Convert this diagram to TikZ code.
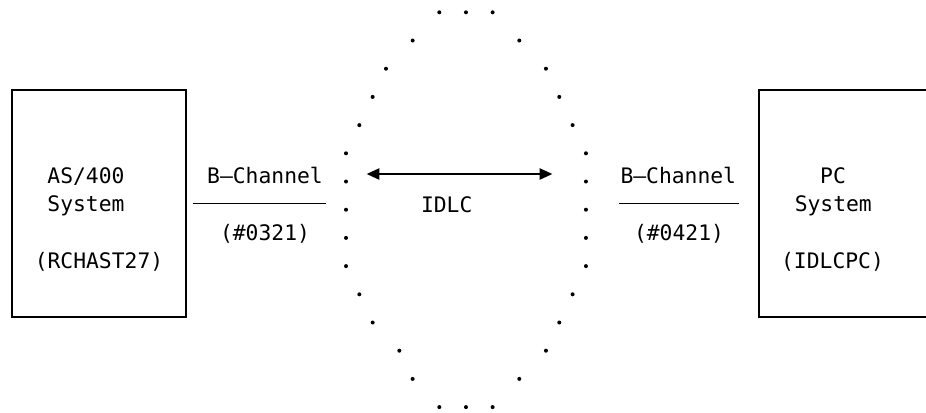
\documentclass[tikz,border=0pt]{standalone}
\usepackage{fontspec}
\newfontfamily\termfont{DejaVu Sans Mono}
\usetikzlibrary{arrows.meta}
\tikzset{
  sysbox/.style={draw, line width=1pt, minimum width=130.5pt, minimum height=170.25pt, inner sep=0pt},
  lbl/.style={anchor=base, inner sep=0pt, font=\termfont\fontsize{16}{16}\selectfont},
  link/.style={line width=0.9pt},
}
\begin{document}
\begin{tikzpicture}[x=0.75pt, y=-0.75pt]
  \useasboundingbox (0,0) rectangle (926,412);
  % systems
  \node [sysbox] (as400) at (99,203.5) {};
  \node [sysbox] (pc) at (846,203.5) {};
  \node [lbl] (as400name) at (86,183.5) {AS/400};
  \node [lbl] (as400sys) at (86,211.7) {System};
  \node [lbl] (as400id) at (99,268.3) {(RCHAST27)};
  \node [lbl] (pcname) at (833,183.5) {PC};
  \node [lbl] (pcsys) at (833.3,211.7) {System};
  \node [lbl] (pcid) at (832.5,268.3) {(IDLCPC)};
  % B-channels
  \node [lbl] (lchan) at (265,183.5) {B—Channel};
  \node [lbl] (lnum) at (265,240) {(\#0321)};
  \node [lbl] (rchan) at (678.3,183.5) {B—Channel};
  \node [lbl] (rnum) at (679,240) {(\#0421)};
  \coordinate (lchl) at (192.7,203.7);
  \coordinate (lchr) at (326,203.7);
  \coordinate (rchl) at (619.3,203.7);
  \coordinate (rchr) at (739.3,203.7);
  \draw [link] (lchl) -- (lchr);
  \draw [link] (rchl) -- (rchr);
  % network cloud
  \foreach \k/\r in {7/0,9/0,11/0, 5/1,13/1, 3/2,15/2, 2/3,16/3, 1/4,17/4,
                     0/5,18/5, 0/6,18/6, 0/7,18/7, 0/8,18/8, 0/9,18/9,
                     1/10,17/10, 2/11,16/11, 4/12,15/12, 5/13,13/13, 7/14,9/14,11/14}
    \fill (346+13.33*\k, 12.3+28.2*\r) circle (1.5pt);
  \coordinate (idl) at (366.7,174);
  \coordinate (idr) at (552.3,174);
  \draw [line width=1pt, {Triangle[length=9.5pt,width=8.5pt]}-{Triangle[length=9.5pt,width=8.5pt]}] (idl) -- (idr);
  \node [lbl] (idlc) at (446.7,212) {IDLC};
\end{tikzpicture}
\end{document}
